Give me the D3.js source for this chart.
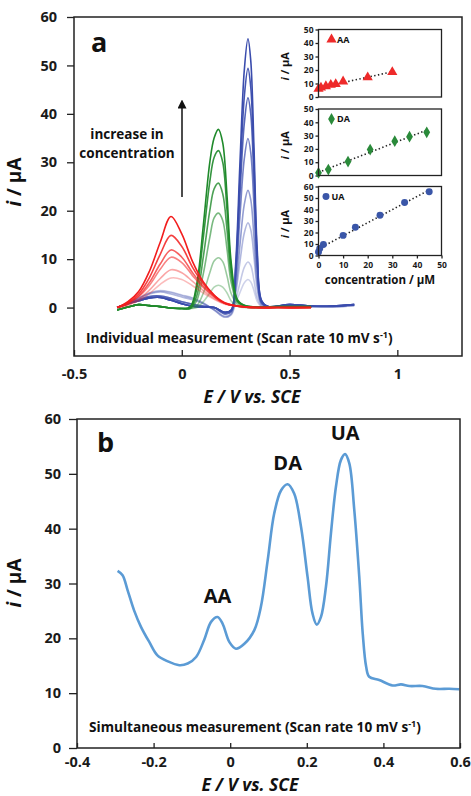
<!DOCTYPE html>
<html>
<head>
<meta charset="utf-8">
<script src="https://cdn.jsdelivr.net/npm/d3@7"></script>
<style>
  html, body { margin: 0; padding: 0; background: #fff; }
  svg { display: block; font-family: "Open Sans", "Liberation Sans", sans-serif; }
</style>
</head>
<body>
<svg id="chart" width="471" height="796"></svg>
<script>
// ---------- Panel a: individual voltammograms ----------
const aaPotential = [-0.30,-0.25,-0.20,-0.15,-0.10,-0.05,0.00,0.05,0.10,0.15,0.20,0.30,0.45,0.60];
const aaCurrents = [
  [0,0.5,1.4,2.9,4.8,6.1,5.8,4.5,3.0,1.7,0.7,0.1,0,0],
  [0,0.6,1.7,3.6,6.0,7.8,7.2,5.4,3.5,1.9,0.8,0.1,0,0],
  [0,0.8,2.2,4.6,7.9,10.4,9.3,6.6,4.1,2.2,0.9,0.1,0,0],
  [0,0.9,2.4,5.2,9.0,11.9,10.4,7.2,4.4,2.3,0.9,0.1,0,0],
  [0,1.0,2.8,6.2,11.0,14.9,12.6,8.3,4.9,2.5,1.0,0.1,0,0],
  [0,1.2,3.3,7.5,13.5,18.8,15.2,9.5,5.3,2.6,0.9,0.1,0,0]
];
const aaShade = [0.3,0.4,0.55,0.7,0.85,1];

const daPotential = [-0.30,-0.25,-0.20,-0.15,-0.10,-0.05,0.00,0.04,0.07,0.10,0.13,0.15,0.17,0.19,0.21,0.23,0.26,0.30,0.45,0.60];
const daCurrents = [
  [-0.5,0.1,0.6,0.4,0.2,-0.1,-0.2,-0.2,0.0,1.2,3.0,4.2,4.6,4.2,3.0,1.3,0.2,0,0,0],
  [-0.5,0.1,0.6,0.4,0.2,-0.1,-0.2,-0.2,0.4,3.0,7.2,9.6,10.3,9.5,6.5,2.8,0.6,0,0,0],
  [-0.5,0.1,0.6,0.4,0.2,-0.1,-0.2,-0.2,1.5,7.0,14.5,18.5,19.5,18.0,12.0,5.0,1.0,0.2,0.1,0.1],
  [-0.5,0.1,0.6,0.4,0.2,-0.1,-0.2,-0.1,2.5,10.5,20.0,24.5,25.7,23.5,16.0,6.5,1.2,0.3,0.1,0.1],
  [-0.5,0.1,0.6,0.4,0.2,-0.1,-0.2,0.0,4.0,14.5,26.0,31.0,32.4,30.0,20.0,8.0,1.3,0.3,0.2,0.2],
  [-0.5,0.1,0.6,0.4,0.2,-0.1,-0.2,0.2,5.0,17.0,30.0,35.0,36.8,34.0,23.0,9.0,1.5,0.3,0.2,0.2]
];
const daShade = [0.35,0.45,0.6,0.8,0.9,1];

const uaPotential = [-0.30,-0.25,-0.20,-0.15,-0.10,-0.05,0.00,0.05,0.10,0.15,0.20,0.23,0.25,0.27,0.29,0.307,0.32,0.335,0.35,0.37,0.40,0.50,0.60,0.70,0.80];
const uaCurrents = [
  [0,1.0,2.0,3.0,3.5,3.2,2.6,2.0,1.0,-0.5,-2.0,-1.5,0.9,3.1,5.1,5.8,5.3,3.5,1.3,0.2,0,0.5,0.2,0.1,0.4],
  [0,1.0,2.0,3.0,3.4,3.1,2.5,1.9,0.9,-0.5,-2.0,-1.3,1.5,5.1,8.3,9.4,8.7,5.6,2.1,0.3,0,0.5,0.2,0.1,0.4],
  [0,0.9,1.9,2.8,3.2,2.8,2.2,1.6,0.8,-0.4,-1.8,-1.2,2.8,9.5,15.4,17.5,16.1,10.5,3.9,0.6,0.1,0.5,0.2,0.2,0.5],
  [0,0.8,1.6,2.3,2.4,1.9,1.2,0.7,0.3,0,-1.3,-0.8,3.9,13.0,21.3,24.2,22.3,14.5,5.3,0.8,0.2,0.6,0.3,0.3,0.6],
  [0,0.8,1.6,2.3,2.4,1.9,1.2,0.7,0.3,0,-1.3,-0.8,5.6,19.0,30.7,34.9,32.0,21.0,7.7,1.0,0.2,0.6,0.3,0.3,0.6],
  [0,0.8,1.4,2.0,2.1,1.5,0.8,0.3,0.1,0,-1.0,-0.5,7.0,23.5,38.0,43.3,40.0,26.0,9.5,1.2,0.2,0.6,0.3,0.3,0.6],
  [0,0.8,1.4,2.0,2.1,1.5,0.8,0.3,0.1,0,-1.0,-0.5,8.0,26.5,43.5,49.4,45.5,29.5,10.8,1.4,0.2,0.6,0.3,0.3,0.6],
  [0,0.8,1.4,2.0,2.1,1.5,0.8,0.3,0.1,0,-1.0,-0.5,9.0,30.0,49.0,55.5,51.0,33.0,12.0,1.5,0.2,0.6,0.3,0.3,0.6]
];
const uaShade = [0.25,0.3,0.4,0.55,0.7,0.85,0.95,1];

const panelAxTicks = [-0.5, 0, 0.5, 1];
const panelAyTicks = [0, 10, 20, 30, 40, 50, 60];

// ---------- Calibration insets ----------
const aaConc = [0, 1, 3, 5, 7, 10, 20, 30];
const aaPeak = [6, 7, 8, 9, 9.5, 11.5, 14.5, 18.5];
const daConc = [0, 4, 12, 21, 31, 37, 44];
const daPeak = [2, 4.5, 10.5, 19.5, 25.8, 29.2, 32.5];
const uaConc = [0, 0.5, 2, 10, 15, 25, 35, 45];
const uaPeak = [3, 6, 9.5, 17.5, 24.5, 35, 46, 55.5];
const insetXTicks = [0, 10, 20, 30, 40, 50];
const insetYTicks50 = [0, 10, 20, 30, 40, 50];
const insetYTicks60 = [0, 10, 20, 30, 40, 50, 60];

// ---------- Panel b: simultaneous measurement ----------
const mixPotential = [-0.294,-0.281,-0.268,-0.251,-0.233,-0.211,-0.19,-0.163,-0.133,-0.111,-0.089,-0.068,-0.05,-0.033,-0.02,-0.002,0.015,0.037,0.063,0.08,0.098,0.115,0.133,0.15,0.167,0.185,0.202,0.215,0.226,0.237,0.25,0.263,0.276,0.289,0.3,0.311,0.324,0.337,0.346,0.355,0.363,0.389,0.424,0.446,0.468,0.502,0.537,0.572,0.598];
const mixCurrent = [32.3,31.5,28.8,25.1,22.1,19.3,16.9,15.8,15.1,15.4,16.6,19.7,23.0,23.9,22.7,19.3,18.1,19.0,21.5,25.7,34.3,42.8,47.0,48.1,46.4,40.3,31.2,24.5,22.5,23.9,29.4,39.1,47.6,52.5,53.6,51.9,43.4,31.2,20.9,14.8,13.0,12.4,11.4,11.6,11.3,11.3,10.8,10.8,10.7];
const panelBxTicks = [-0.4, -0.2, 0, 0.2, 0.4, 0.6];
const panelByTicks = [0, 10, 20, 30, 40, 50, 60];
const peakLabels = [
  { name: "AA", e: -0.033, i: 23.9 },
  { name: "DA", e: 0.15, i: 48.1 },
  { name: "UA", e: 0.3, i: 53.6 }
];

// ---------- Drawing ----------
const svg = d3.select("#chart");
const fmt = d => (d === 0 ? "0" : String(d));

function styleAxis(g, size) {
  g.select(".domain").remove();
  g.selectAll(".tick line").attr("stroke", "#222").attr("stroke-width", 1.3);
  g.selectAll(".tick text").attr("fill", "#1a1a1a").attr("font-weight", 700).attr("font-size", size)
    .attr("font-family", "'Open Sans', sans-serif");
}

function frame(x0, y0, x1, y1, w) {
  svg.append("rect").attr("x", x0).attr("y", y0).attr("width", x1 - x0).attr("height", y1 - y0)
    .attr("fill", "none").attr("stroke", "#222").attr("stroke-width", w);
}

function scanRateText(x, y, lead) {
  const t = svg.append("text").attr("x", x).attr("y", y).attr("font-size", 13.6).attr("font-weight", 700).attr("fill", "#111");
  t.append("tspan").text(lead + " (Scan rate 10 mV s");
  t.append("tspan").attr("dy", -5).attr("font-size", 9).text("-1");
  t.append("tspan").attr("dy", 5).text(")");
}

function axisTitles(xc, yx, ybase, yc) {
  svg.append("text").attr("x", xc).attr("y", ybase).attr("text-anchor", "middle")
    .attr("font-size", 17.5).attr("font-weight", 700).attr("font-style", "italic").attr("fill", "#111")
    .text("E / V vs. SCE");
  const yt = svg.append("text").attr("transform", `translate(${yx},${yc}) rotate(-90)`).attr("text-anchor", "middle")
    .attr("font-size", 19).attr("font-weight", 700).attr("fill", "#111");
  yt.append("tspan").attr("font-style", "italic").text("i");
  yt.append("tspan").text(" / µA");
}

// Panel a scales
const xA = d3.scaleLinear().domain([-0.5, 1.3]).range([74, 462]);
const yA = d3.scaleLinear().domain([-10, 60]).range([356, 17]);

svg.append("g").attr("transform", "translate(0,356)")
  .call(d3.axisBottom(xA).tickValues(panelAxTicks).tickSize(-6).tickPadding(13).tickFormat(fmt))
  .call(g => styleAxis(g, 14.5));
svg.append("g").attr("transform", "translate(74,0)")
  .call(d3.axisLeft(yA).tickValues(panelAyTicks).tickSize(7).tickPadding(10).tickFormat(fmt))
  .call(g => styleAxis(g, 14.5));

svg.append("clipPath").attr("id", "clipA").append("rect")
  .attr("x", 74).attr("y", 17).attr("width", 388).attr("height", 339);

const lineA = (xs) => d3.line().x((d, k) => xA(xs[k])).y(d => yA(d)).curve(d3.curveCatmullRom.alpha(0.5));
const gA = svg.append("g").attr("clip-path", "url(#clipA)");

uaCurrents.forEach((c, k) => gA.append("path").attr("d", lineA(uaPotential)(c)).attr("fill", "none")
  .attr("stroke", "#3a4cad").attr("stroke-opacity", uaShade[k]).attr("stroke-width", 1.6));
daCurrents.forEach((c, k) => gA.append("path").attr("d", lineA(daPotential)(c)).attr("fill", "none")
  .attr("stroke", "#1f8a2b").attr("stroke-opacity", daShade[k]).attr("stroke-width", 1.6));
aaCurrents.forEach((c, k) => gA.append("path").attr("d", lineA(aaPotential)(c)).attr("fill", "none")
  .attr("stroke", "#f21d1d").attr("stroke-opacity", aaShade[k]).attr("stroke-width", 1.6));

frame(74, 17, 462, 356, 1.5);

svg.append("text").attr("x", 91).attr("y", 52).attr("font-size", 27).attr("font-weight", 700).attr("fill", "#111").text("a");

// concentration arrow
svg.append("defs").append("marker").attr("id", "arrowHead").attr("viewBox", "0 0 10 10")
  .attr("refX", 5).attr("refY", 5).attr("markerWidth", 6).attr("markerHeight", 6).attr("orient", "auto")
  .append("path").attr("d", "M0,0 L10,5 L0,10 z").attr("fill", "#111");
svg.append("line").attr("x1", 182).attr("y1", 197).attr("x2", 182).attr("y2", 104)
  .attr("stroke", "#111").attr("stroke-width", 1.5).attr("marker-end", "url(#arrowHead)");
svg.append("text").attr("x", 127).attr("y", 139).attr("text-anchor", "middle").attr("font-size", 13.5)
  .attr("font-weight", 700).attr("fill", "#111").text("increase in");
svg.append("text").attr("x", 127).attr("y", 158).attr("text-anchor", "middle").attr("font-size", 13.5)
  .attr("font-weight", 700).attr("fill", "#111").text("concentration");

scanRateText(86, 343, "Individual measurement");
axisTitles(252, 21, 403, 182);

// Insets
const xI = d3.scaleLinear().domain([0, 50]).range([318.5, 441.5]);
function fitLine(xs, ys) {
  const mx = d3.mean(xs), my = d3.mean(ys);
  const b = d3.sum(xs, (x, k) => (x - mx) * (ys[k] - my)) / d3.sum(xs, x => (x - mx) * (x - mx));
  return { a: my - b * mx, b };
}
function inset(y0, y1, yMax, yTicks, conc, peak, symbol, color, name, symSize, showX, legendX) {
  const yI = d3.scaleLinear().domain([0, yMax]).range([y1, y0]);
  svg.append("rect").attr("x", 318.5).attr("y", y0).attr("width", 123).attr("height", y1 - y0).attr("fill", "#fff");
  svg.append("g").attr("transform", "translate(318.5,0)")
    .call(d3.axisLeft(yI).tickValues(yTicks).tickSize(3).tickPadding(2).tickFormat(fmt))
    .call(g => styleAxis(g, 8.5));
  if (showX) {
    svg.append("g").attr("transform", `translate(0,${y1})`)
      .call(d3.axisBottom(xI).tickValues(insetXTicks).tickSize(3).tickPadding(3).tickFormat(fmt))
      .call(g => styleAxis(g, 8.5));
  }
  const f = fitLine(conc, peak);
  const xMin = d3.min(conc), xMax = d3.max(conc);
  svg.append("line").attr("x1", xI(xMin)).attr("y1", yI(f.a + f.b * xMin)).attr("x2", xI(xMax)).attr("y2", yI(f.a + f.b * xMax))
    .attr("stroke", "#222").attr("stroke-width", 1.6).attr("stroke-dasharray", "1.4,2.4");
  const sym = d3.symbol().type(symbol).size(symSize);
  svg.append("g").selectAll("path").data(conc).join("path")
    .attr("transform", (d, k) => `translate(${xI(d)},${yI(peak[k])})`).attr("d", sym).attr("fill", color);
  svg.append("path").attr("transform", `translate(${legendX},${y0 + 10})`).attr("d", sym).attr("fill", color);
  svg.append("text").attr("x", legendX + 5.5).attr("y", y0 + 13).attr("font-size", 9).attr("font-weight", 700).attr("fill", "#111").text(name);
  frame(318.5, y0, 441.5, y1, 1.3);
  const yt = svg.append("text").attr("transform", `translate(289,${(y0 + y1) / 2 + 3}) rotate(-90)`).attr("text-anchor", "middle")
    .attr("font-size", 11).attr("font-weight", 700).attr("fill", "#111");
  yt.append("tspan").attr("font-style", "italic").text("i");
  yt.append("tspan").text(" / µA");
}
inset(29.5, 97, 50, insetYTicks50, aaConc, aaPeak, d3.symbolTriangle, "#ee2a2a", "AA", 45, false, 331.5);
inset(109, 175.5, 50, insetYTicks50, daConc, daPeak, d3.symbolDiamond, "#2a8a3a", "DA", 40, false, 331.5);
inset(186.5, 255.5, 60, insetYTicks60, uaConc, uaPeak, d3.symbolCircle, "#3a56a8", "UA", 38, true, 326);
svg.append("text").attr("x", 380).attr("y", 284).attr("text-anchor", "middle").attr("font-size", 11.5)
  .attr("font-weight", 700).attr("fill", "#111").text("concentration /  µM");

// Panel b
const xB = d3.scaleLinear().domain([-0.4, 0.6]).range([77, 460]);
const yB = d3.scaleLinear().domain([0, 60]).range([748, 419]);
svg.append("g").attr("transform", "translate(0,748)")
  .call(d3.axisBottom(xB).tickValues(panelBxTicks).tickSize(-5).tickPadding(9).tickFormat(fmt))
  .call(g => styleAxis(g, 14.5));
svg.append("g").attr("transform", "translate(77,0)")
  .call(d3.axisLeft(yB).tickValues(panelByTicks).tickSize(8).tickPadding(8).tickFormat(fmt))
  .call(g => styleAxis(g, 14.5));

svg.append("path").attr("d", d3.line().x((d, k) => xB(mixPotential[k])).y(d => yB(d)).curve(d3.curveCatmullRom.alpha(0.5))(mixCurrent))
  .attr("fill", "none").attr("stroke", "#5b9bd5").attr("stroke-width", 2.6);
frame(77, 419, 460, 748, 1.5);

svg.append("g").selectAll("text").data(peakLabels).join("text")
  .attr("x", d => xB(d.e)).attr("y", d => yB(d.i) - 14).attr("text-anchor", "middle")
  .attr("font-size", 20).attr("font-weight", 700).attr("fill", "#111").text(d => d.name);

svg.append("text").attr("x", 97).attr("y", 452).attr("font-size", 27).attr("font-weight", 700).attr("fill", "#111").text("b");
scanRateText(89, 732, "Simultaneous measurement");
axisTitles(250, 21, 791, 583);
</script>
</body>
</html>
